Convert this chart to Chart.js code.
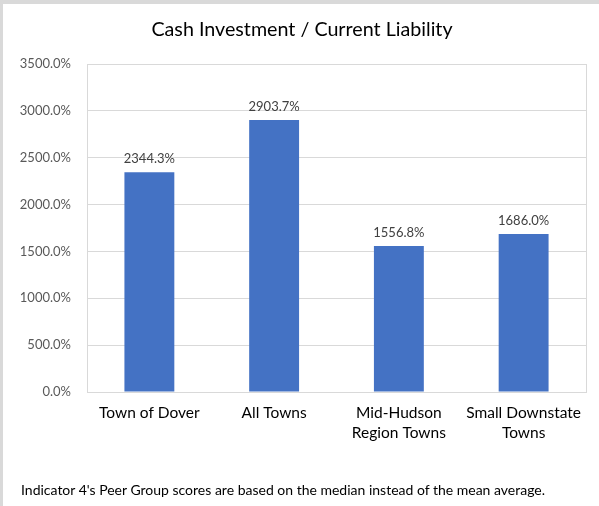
<!DOCTYPE html>
<html>
<head>
<meta charset="utf-8">
<script src="https://cdn.jsdelivr.net/npm/chart.js@4.4.1/dist/chart.umd.min.js"></script>
<style>
  html, body { margin: 0; padding: 0; background: #d9d9d9; }
  #wrap { position: absolute; left: 3px; top: 4px; width: 596px; height: 502px; background: #fff; }
  #box { position: absolute; left: -3px; top: -4px; width: 599px; height: 506px; }
  #note { position: absolute; left: 18px; top: 477px; font: 14px Lato, sans-serif; color: #000; white-space: nowrap; }
</style>
</head>
<body>
<div id="wrap">
  <div id="box"><canvas id="chart" width="599" height="506"></canvas></div>
  <div id="note">Indicator 4's Peer Group scores are based on the median instead of the mean average.</div>
</div>
<script>
const chartTitle = "Cash Investment / Current Liability";
const categories = ["Town of Dover", "All Towns", ["Mid-Hudson", "Region Towns"], ["Small Downstate", "Towns"]];
const ratioValues = [2344.3, 2903.7, 1556.8, 1686.0];
const yTicks = [0, 500, 1000, 1500, 2000, 2500, 3000, 3500];

// title is drawn by hand so it can sit where the original has it
const titlePlugin = {
  id: "titlePlugin",
  afterDraw(chart) {
    const ctx = chart.ctx;
    ctx.save();
    ctx.font = "19.7px Lato, sans-serif";
    ctx.fillStyle = "#000";
    ctx.textAlign = "center";
    ctx.textBaseline = "middle";
    ctx.fillText(chartTitle, 302, 30);
    ctx.restore();
  }
};

const barLabels = {
  id: "barLabels",
  afterDatasetsDraw(chart) {
    const ctx = chart.ctx;
    ctx.save();
    ctx.font = "13px Lato, sans-serif";
    ctx.fillStyle = "#404040";
    ctx.textAlign = "center";
    ctx.textBaseline = "bottom";
    chart.getDatasetMeta(0).data.forEach((bar, i) => {
      ctx.fillText(ratioValues[i].toFixed(1) + "%", bar.x, bar.y - 7);
    });
    ctx.restore();
  }
};

const plotBox = {
  id: "plotBox",
  beforeDatasetsDraw(chart) {
    const a = chart.chartArea;
    const ctx = chart.ctx;
    ctx.save();
    ctx.strokeStyle = "#d9d9d9";
    ctx.lineWidth = 1;
    ctx.strokeRect(Math.round(a.left) + 0.5, Math.round(a.top) + 0.5, Math.round(a.right - a.left), Math.round(a.bottom - a.top));
    ctx.restore();
  }
};

new Chart(document.getElementById("chart"), {
  type: "bar",
  data: {
    labels: categories,
    datasets: [{
      data: ratioValues,
      backgroundColor: "#4472c4",
      categoryPercentage: 1,
      barPercentage: 0.4
    }]
  },
  options: {
    responsive: false,
    animation: false,
    layout: { padding: { left: 3, right: 13, top: 64, bottom: 54 } },
    plugins: {
      legend: { display: false },
      tooltip: { enabled: false },
      title: { display: false }
    },
    scales: {
      x: {
        grid: { display: false, drawTicks: false },
        border: { color: "#d9d9d9" },
        ticks: { color: "#000", font: { family: "Lato, sans-serif", size: 15.5, lineHeight: 1.3 }, padding: 11, maxRotation: 0 },
        afterFit(scale) { scale.height = 60; }
      },
      y: {
        min: 0,
        max: 3500,
        afterBuildTicks(scale) { scale.ticks = yTicks.map(v => ({ value: v })); },
        grid: { color: "#d9d9d9", drawTicks: false },
        border: { color: "#d9d9d9" },
        ticks: {
          color: "#595959",
          font: { family: "Lato, sans-serif", size: 13 },
          padding: 16,
          callback: v => v.toFixed(1) + "%"
        },
        afterFit(scale) { scale.width = 84; }
      }
    }
  },
  plugins: [plotBox, barLabels, titlePlugin]
});
</script>
</body>
</html>
